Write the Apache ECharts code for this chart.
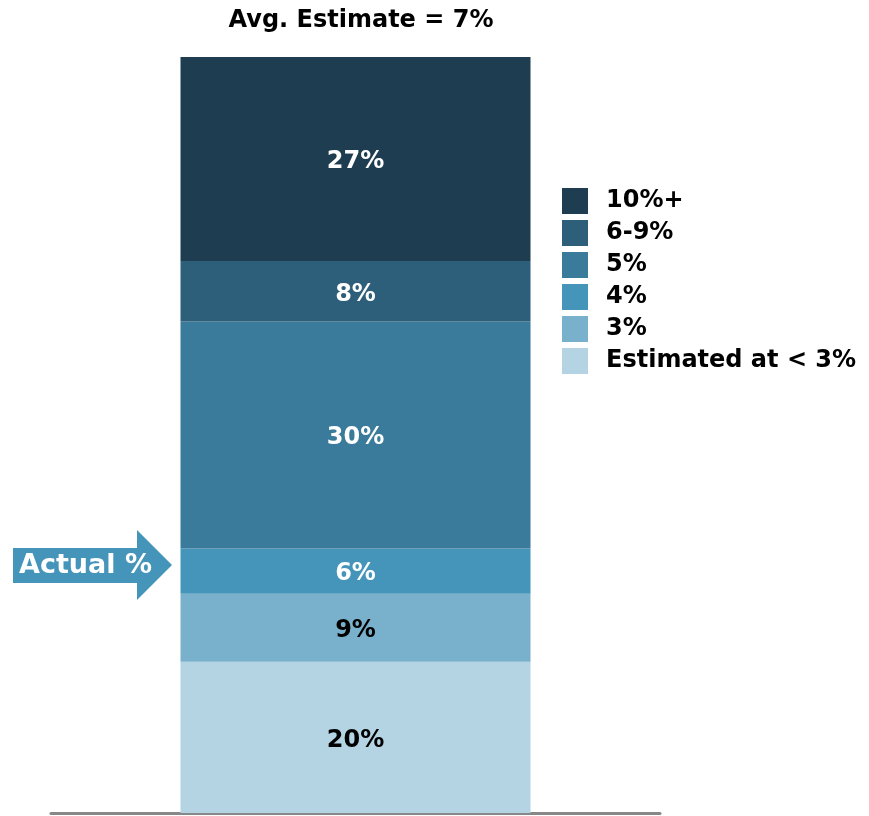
<!DOCTYPE html>
<html>
<head>
<meta charset="utf-8">
<script src="https://cdn.jsdelivr.net/npm/echarts@6/dist/echarts.min.js"></script>
<style>
  html, body { margin: 0; padding: 0; background: #fff; }
  #chart { width: 869px; height: 816px; }
</style>
</head>
<body>
<div id="chart"></div>
<script>
  // buckets, bottom to top
  const buckets = ['Estimated at < 3%', '3%', '4%', '5%', '6-9%', '10%+'];
  const shares = [20, 9, 6, 30, 8, 27];
  const colors = ['#b4d4e4', '#79b0cc', '#4595bb', '#3a7a9a', '#2d5f7a', '#1f3d50'];
  const labelColors = ['#000', '#000', '#fff', '#fff', '#fff', '#fff'];
  const category = ['All'];
  const title = 'Avg. Estimate = 7%';

  const font = '"DejaVu Sans", Verdana, sans-serif';
  let chart = echarts.init(document.getElementById('chart'));

  let series = buckets.map((name, i) => ({
    name: name,
    type: 'bar',
    stack: 'all',
    barWidth: 350,
    data: [shares[i]],
    itemStyle: { color: colors[i] },
    label: {
      show: true,
      formatter: '{c}%',
      offset: [0, 3],
      color: labelColors[i],
      fontFamily: font,
      fontWeight: 'bold',
      fontSize: 24
    },
    emphasis: { disabled: true }
  }));

  let option = {
    animation: false,
    title: {
      text: title,
      left: 356,
      textAlign: 'center',
      top: 4,
      textStyle: { fontFamily: font, fontWeight: 'bold', fontSize: 24, color: '#000' }
    },
    grid: { left: 51, right: 209, top: 57, bottom: 3 },
    legend: {
      orient: 'vertical',
      left: 562,
      top: 188,
      padding: 0,
      itemWidth: 26,
      itemHeight: 26,
      itemGap: 6,
      icon: 'rect',
      data: buckets.slice().reverse(),
      textStyle: { fontFamily: font, fontWeight: 'bold', fontSize: 24, color: '#000', padding: [3, 0, 0, 13] },
      selectedMode: false
    },
    xAxis: {
      type: 'category',
      data: category,
      axisLine: { lineStyle: { color: '#888', width: 3 } },
      axisTick: { show: false },
      axisLabel: { show: false }
    },
    yAxis: {
      type: 'value',
      min: 0,
      max: 100,
      show: false
    },
    series: series,
    graphic: [
      {
        type: 'polygon',
        shape: { points: [[13, 548], [137, 548], [137, 530], [172, 565], [137, 600], [137, 583], [13, 583]] },
        style: { fill: '#4595bb' }
      },
      {
        type: 'text',
        left: 19,
        top: 552,
        style: { text: 'Actual %', fill: '#fff', font: 'bold 27px ' + font }
      }
    ]
  };

  chart.setOption(option);
</script>
</body>
</html>
